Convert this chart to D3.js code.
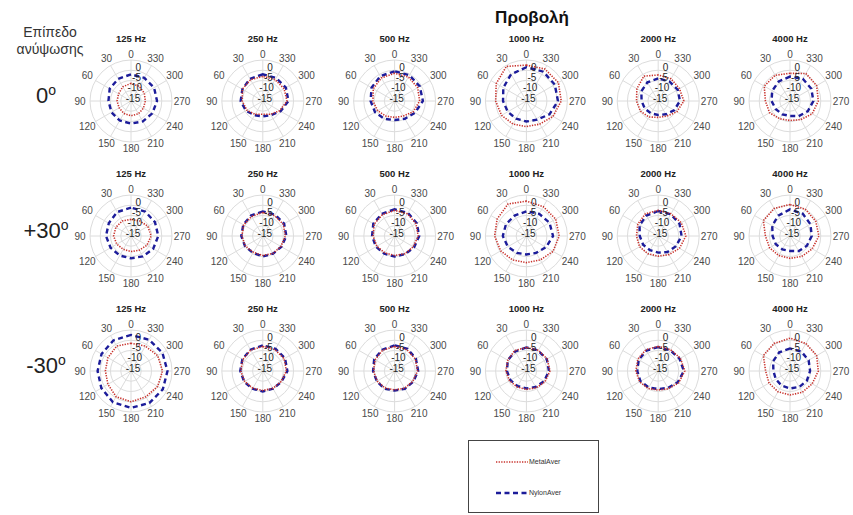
<!DOCTYPE html>
<html>
<head>
<meta charset="utf-8">
<script src="https://cdn.jsdelivr.net/npm/d3@7"></script>
<style>
body { margin: 0; background: #fff; }
text { font-family: "Liberation Sans", Arial, sans-serif; }
</style>
</head>
<body>
<script>
/* Data */
var angles = [0, 30, 60, 90, 120, 150, 180, 210, 240, 270, 300, 330],
	freqs = ["125 Hz", "250 Hz", "500 Hz", "1000 Hz", "2000 Hz", "4000 Hz"],
	elevations = ["0", "+30", "-30"],
	rTicks = [0, -5, -10, -15];

// one row per elevation, one list of 12 values (dB) per frequency
var metalRow0 = [
	[-6.4, -7, -8, -8.2, -8.3, -8, -7.8, -7.8, -8, -8, -7.5, -6.8],
	[-3, -3, -3.5, -5, -6, -7.5, -8.5, -7.5, -5.5, -3.2, -3, -3],
	[-1.5, -2, -3, -4.4, -5.5, -6.5, -7, -6.5, -4.5, -2.8, -2, -1.5],
	[2.5, 4.5, 2, 0, -1, -2, -2.5, -2, 0, 2, 3, 3],
	[-2.3, -1, -3, -4.4, -5, -6, -7, -6.5, -4.5, -2.5, -3, -2.5],
	[-1.5, -0.5, -0.5, -3, -3.5, -5, -5.5, -4.5, -2.5, -1.2, 0, 0.5]
];
var nylonRow0 = [
	[-2, -2.5, -3, -4, -4, -4, -4, -3.5, -3, -2.3, -2, -2],
	[-2, -2.5, -3.5, -4.2, -5.5, -7, -7.5, -7, -5, -2.5, -2, -2],
	[-0.5, -1, -2, -3.3, -4, -5, -5.7, -5, -3.5, -1.2, -0.8, -0.5],
	[1.5, 0, -2, -3.6, -4.5, -5, -5, -4.5, -2, 0.4, 1, 1.5],
	[-4, -4.5, -5.5, -6.9, -7.5, -8, -8.2, -7.5, -6, -4.4, -4, -4],
	[-3.1, -4, -5, -6, -7, -7.5, -7.7, -6.5, -5, -3.6, -3, -2.5]
];
var metalRow1 = [
	[-6.9, -6.5, -6.5, -6.5, -7, -7.5, -7.4, -7, -6, -5.2, -5.5, -6.5],
	[-3.5, -4, -4.2, -4.8, -5.2, -5.8, -5.5, -5.2, -4.8, -4, -3.5, -3.5],
	[-2.5, -3, -3.5, -4.5, -5, -5.5, -5.5, -5, -4.5, -3.5, -3, -2.5],
	[2, 3, 1.5, 0.5, -0.5, -1.5, -2, -1.5, 0, 1, 1.5, 1.5],
	[-2.5, -2.5, -3.5, -4.4, -4.5, -5, -5.2, -4.5, -3, -1.5, -2, -2.5],
	[0.4, 0.5, 0, -3, -3.5, -4, -4.1, -3.5, -2.5, -0.9, -0.5, 0]
];
var nylonRow1 = [
	[-1.2, -1.5, -2.5, -2.8, -3.5, -4, -4.1, -3.5, -2.5, -1.7, -1.5, -1.2],
	[-3, -3.5, -4, -4.5, -5, -5.5, -5, -5, -4.5, -3.5, -3, -3],
	[-2, -2.5, -3, -4, -4.5, -5, -5, -4.8, -4, -3, -2.5, -2],
	[-3, -3.5, -3.5, -3.5, -4.5, -5.5, -6, -5.5, -4, -2, -2, -2.5],
	[-2.8, -3.5, -4.5, -6, -6.5, -7, -6.9, -6, -5, -3.6, -3, -2.8],
	[-2, -3.5, -5, -6.5, -7, -7.5, -7.7, -6.5, -5.5, -4.4, -3.5, -2.5]
];
var metalRow2 = [
	[-1.5, -1, -2, -2.5, -2, -0.5, 0, -0.5, 0, 0.4, 0, -1],
	[-3, -3.2, -3.8, -4.2, -4.8, -5.3, -5.5, -5.2, -4.7, -3.5, -3, -3],
	[-3, -3.3, -4, -4.7, -5.2, -5.5, -5.8, -5.3, -4.8, -3.8, -3.3, -3],
	[-3.5, -3.5, -4.5, -5, -5.5, -6, -6, -5.5, -4.5, -3.5, -3.3, -3.3],
	[-3, -3, -3.5, -4.1, -4.5, -5.2, -5.7, -5, -3.5, -2, -2.5, -3],
	[1, 0.5, 0, -3.1, -3.2, -3.3, -3.3, -3, -2.5, -1.2, 0, 0.5]
];
var nylonRow2 = [
	[2.6, 2.2, 1.6, 1.3, 1.7, 2.6, 3, 3, 2.9, 2.8, 2.7, 2.6],
	[-2.5, -3, -3.5, -4, -4.5, -5, -5, -5, -4.5, -3, -2.5, -2.5],
	[-2.5, -3, -3.5, -4.5, -5, -5, -5.5, -5, -4.5, -3.5, -3, -2.5],
	[-3.5, -4, -4.5, -5.5, -6, -6.5, -6.5, -6, -5, -4, -3.5, -3.5],
	[-3.3, -3.5, -4, -4.8, -5, -5.7, -6.2, -5.5, -4, -2.5, -3, -3.3],
	[-4, -4.5, -5.5, -6.9, -7, -6.8, -6.5, -6, -5.5, -5.2, -4.5, -4]
];

var metalRows = [metalRow0, metalRow1, metalRow2],
	nylonRows = [nylonRow0, nylonRow1, nylonRow2];

/* Display setup */
var width = 853, height = 515,
	R = 41,
	colX = function(i) { return 131 + i * 131.8; },
	rowY = [101, 236, 371],
	metalColor = "#c8322c",
	nylonColor = "#1c1c9a",
	gridColor = "#dcdcdc";

var svg = d3.select("body").append("svg")
	.attr("width", width)
	.attr("height", height);

var r = d3.scaleLinear().domain([-15, 5]).range([0, R]).clamp(true);

var line = d3.lineRadial()
	.angle(function(d, i) { return -angles[i] * Math.PI / 180; })
	.radius(function(d) { return r(d); })
	.curve(d3.curveLinearClosed);

/* Headers */
svg.append("text")
	.attr("x", 532).attr("y", 23)
	.attr("text-anchor", "middle")
	.style("font-size", "17px").style("font-weight", "bold").style("fill", "#111")
	.text("Προβολή");

svg.append("text")
	.attr("x", 50).attr("y", 37)
	.attr("text-anchor", "middle")
	.style("font-size", "14px").style("fill", "#333")
	.text("Επίπεδο");
svg.append("text")
	.attr("x", 50).attr("y", 54)
	.attr("text-anchor", "middle")
	.style("font-size", "14px").style("fill", "#333")
	.text("ανύψωσης");

elevations.forEach(function(e, j) {
	var t = svg.append("text")
		.attr("x", 46).attr("y", rowY[j] + 2)
		.attr("text-anchor", "middle")
		.style("font-size", "22px").style("fill", "#222")
		.text(e);
	t.append("tspan")
		.attr("dy", -8)
		.style("font-size", "14px")
		.text("o");
});

/* Polar plots */
function drawPolar(g, freq, metal, nylon) {
	// grid circles
	g.selectAll("circle.grid")
		.data([-10, -5, 0, 5])
		.enter().append("circle")
		.attr("class", "grid")
		.attr("r", function(d) { return r(d); })
		.style("fill", "none")
		.style("stroke", gridColor)
		.style("stroke-width", 1);

	// spokes
	g.selectAll("line.spoke")
		.data(angles)
		.enter().append("line")
		.attr("class", "spoke")
		.attr("x1", 0).attr("y1", 0)
		.attr("x2", function(d) { return -R * Math.sin(d * Math.PI / 180); })
		.attr("y2", function(d) { return -R * Math.cos(d * Math.PI / 180); })
		.style("stroke", gridColor)
		.style("stroke-width", 1);

	// angle labels
	g.selectAll("text.theta")
		.data(angles)
		.enter().append("text")
		.attr("class", "theta")
		.attr("x", function(d) {
			var a = d * Math.PI / 180;
			return -(47 + 4 * Math.abs(Math.sin(a))) * Math.sin(a);
		})
		.attr("y", function(d) {
			var a = d * Math.PI / 180;
			return -(47 + 4 * Math.abs(Math.sin(a))) * Math.cos(a);
		})
		.attr("dy", "0.35em")
		.attr("text-anchor", "middle")
		.style("font-size", "10px").style("fill", "#4a4a4a")
		.text(function(d) { return d; });

	// title
	g.append("text")
		.attr("y", -59)
		.attr("text-anchor", "middle")
		.style("font-size", "9.5px").style("font-weight", "bold").style("fill", "#222")
		.text(freq);

	// data
	g.append("path")
		.attr("d", line(nylon))
		.style("fill", "none")
		.style("stroke", nylonColor)
		.style("stroke-width", 2.4)
		.style("stroke-dasharray", "5,3.5");

	g.append("path")
		.attr("d", line(metal))
		.style("fill", "none")
		.style("stroke", metalColor)
		.style("stroke-width", 1.6)
		.style("stroke-dasharray", "1.3,1.3");

	// radial labels
	g.selectAll("text.rlab")
		.data(rTicks)
		.enter().append("text")
		.attr("class", "rlab")
		.attr("x", function(d) { return 2 + r(d) * Math.sin(Math.PI / 18); })
		.attr("y", function(d) { return -3 - r(d) * Math.cos(Math.PI / 18); })
		.attr("dy", "0.35em")
		.attr("text-anchor", "middle")
		.style("font-size", "10px").style("fill", "#262626")
		.text(function(d) { return d; });
}

rowY.forEach(function(cy, j) {
	freqs.forEach(function(f, i) {
		var g = svg.append("g")
			.attr("transform", "translate(" + colX(i) + "," + cy + ")");
		drawPolar(g, f, metalRows[j][i], nylonRows[j][i]);
	});
});

/* Legend */
var legend = svg.append("g");
legend.append("rect")
	.attr("x", 468.5).attr("y", 440.5)
	.attr("width", 130).attr("height", 72)
	.style("fill", "#fff")
	.style("stroke", "#444")
	.style("stroke-width", 1);

var legendItems = [
	{name: "MetalAver", color: metalColor, w: 1.6, dash: "1.3,1.3", y: 462},
	{name: "NylonAver", color: nylonColor, w: 2.4, dash: "5,3.5", y: 493}
];
legendItems.forEach(function(d) {
	legend.append("line")
		.attr("x1", 496).attr("x2", 528)
		.attr("y1", d.y).attr("y2", d.y)
		.style("stroke", d.color)
		.style("stroke-width", d.w)
		.style("stroke-dasharray", d.dash);
	legend.append("text")
		.attr("x", 529).attr("y", d.y)
		.attr("dy", "0.35em")
		.style("font-size", "7px").style("fill", "#333")
		.text(d.name);
});
</script>
</body>
</html>
